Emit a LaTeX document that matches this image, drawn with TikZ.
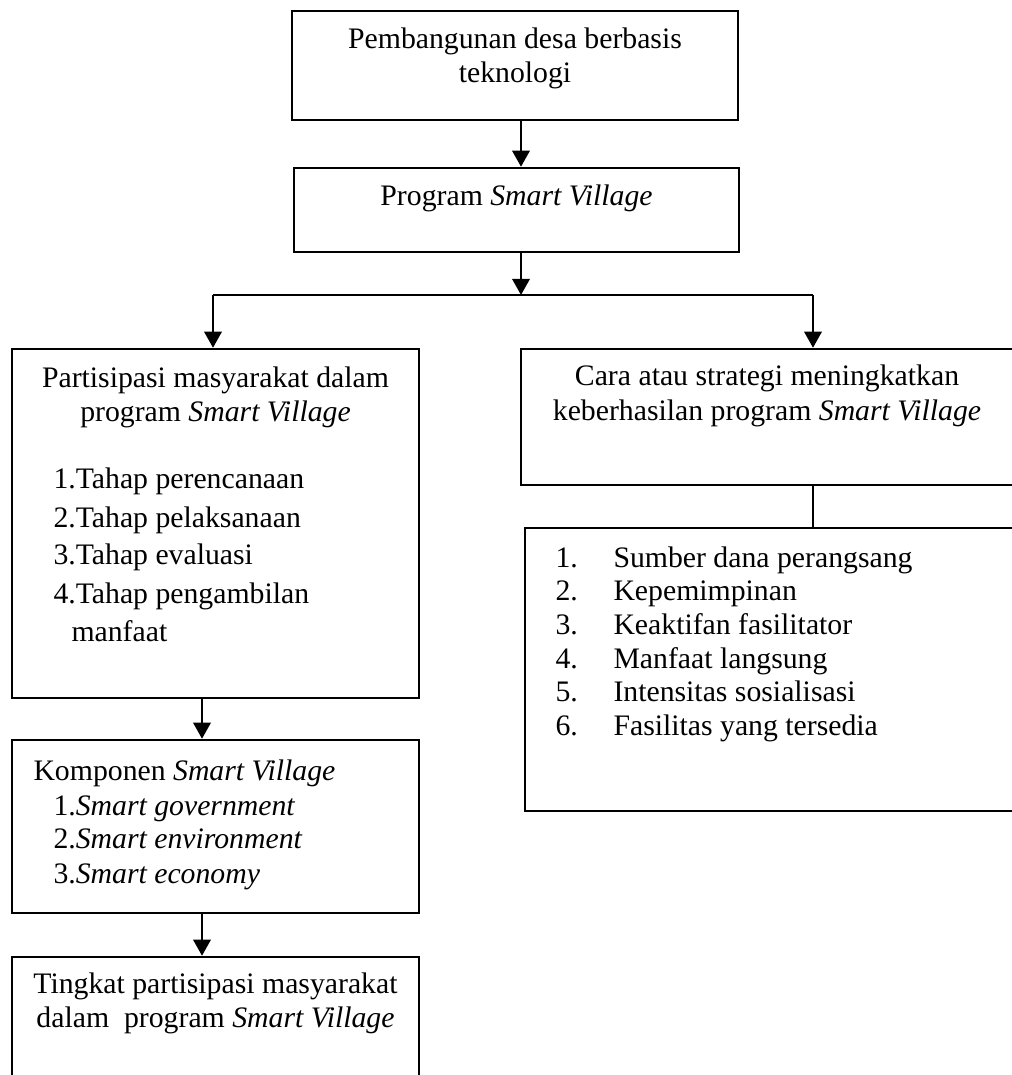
\documentclass[tikz,border=0pt]{standalone}
\usepackage{fontspec}
\setmainfont{Liberation Serif}
\usetikzlibrary{arrows.meta,fit}
\tikzset{
  kotak/.style={draw, line width=1pt, inner sep=0pt},
  arr/.style={line width=1pt, -{Triangle[width=7pt,length=6.5pt]}},
  garis/.style={line width=1pt},
  teks/.style={anchor=base, inner sep=0pt},
  daftar/.style={anchor=base west, inner sep=0pt}
}
\begin{document}
\begin{tikzpicture}[x=0.4pt,y=-0.4pt,font=\fontsize{11.9pt}{13.6pt}\selectfont]
            \useasboundingbox (0,0) rectangle (1012,1075);
            \node[kotak, fit={(292,11) (738,120)}] (pembangunan) {};
            \node[kotak, fit={(294,168) (739,252)}] (program) {};
            \node[kotak, fit={(12,349) (419,698)}] (partisipasi) {};
            \node[kotak, fit={(521,349) (1016,485)}] (cara) {};
            \node[kotak, fit={(525,528) (1016,811)}] (faktor) {};
            \node[kotak, fit={(12,740) (419,913)}] (komponen) {};
            \node[kotak, fit={(12,957) (419,1090)}] (tingkat) {};
            \node[teks] (t1a) at (515,48) {Pembangunan desa berbasis};
            \node[teks] (t1b) at (515,82) {teknologi};
            \node[teks] (t2) at (516.5,205) {Program \textit{Smart Village}};
            \node[teks] (t3a) at (215.5,387) {Partisipasi masyarakat dalam};
            \node[teks] (t3b) at (215.5,421) {program \textit{Smart Village}};
            \node[daftar] (p1) at (53,488) {1.Tahap perencanaan};
            \node[daftar] (p2) at (53,527) {2.Tahap pelaksanaan};
            \node[daftar] (p3) at (53,564) {3.Tahap evaluasi};
            \node[daftar] (p4) at (53,603) {4.Tahap pengambilan};
            \node[daftar] (p4b) at (71,641) {manfaat};
            \node[teks] (t4a) at (767,385) {Cara atau strategi meningkatkan};
            \node[teks] (t4b) at (767,420) {keberhasilan program \textit{Smart Village}};
            \foreach \i/\s/\yy in {1/Sumber dana perangsang/567, 2/Kepemimpinan/600.5,
                3/Keaktifan fasilitator/634, 4/Manfaat langsung/668,
                5/Intensitas sosialisasi/701, 6/Fasilitas yang tersedia/735} {
              \node[daftar] (fn\i) at (555,\yy) {\i.};
              \node[daftar] (f\i) at (613,\yy) {\s};
            }
            \node[daftar] (t5) at (33,780) {Komponen \textit{Smart Village}};
            \node[daftar] (k1) at (53,815) {1.\textit{Smart government}};
            \node[daftar] (k2) at (53,848) {2.\textit{Smart environment}};
            \node[daftar] (k3) at (53,883) {3.\textit{Smart economy}};
            \node[teks] (t6a) at (215.5,993) {Tingkat partisipasi masyarakat};
            \node[teks] (t6b) at (215.5,1027) {dalam\ \ program \textit{Smart Village}};
            \coordinate (tengah) at (521,295);
            \coordinate (kiri) at (213,295);
            \coordinate (kanan) at (813,295);
            \coordinate (lajur) at (202,0);
            \draw[arr] (tengah |- pembangunan.south) -- (tengah |- program.north);
            \draw[arr] (tengah |- program.south) -- (tengah);
            \draw[garis] (kiri) -- (kanan);
            \draw[arr] (kiri) -- (kiri |- partisipasi.north);
            \draw[arr] (kanan) -- (kanan |- cara.north);
            \draw[garis] (kanan |- cara.south) -- (kanan |- faktor.north);
            \draw[arr] (lajur |- partisipasi.south) -- (lajur |- komponen.north);
            \draw[arr] (lajur |- komponen.south) -- (lajur |- tingkat.north);
        \end{tikzpicture}
\end{document}
